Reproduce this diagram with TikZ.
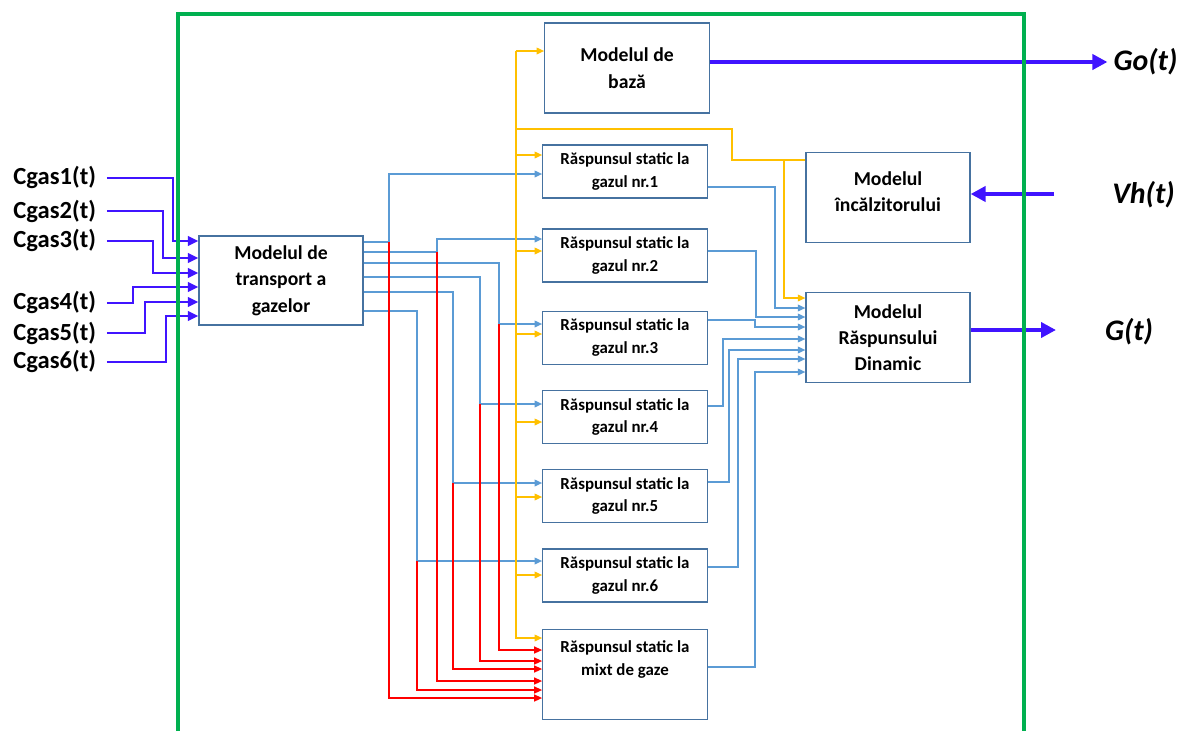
\documentclass[tikz,border=0pt]{standalone}
\usepackage{fontspec}
\setmainfont{Carlito}
\usetikzlibrary{arrows.meta}
\definecolor{FrameGreen}{RGB}{0,176,80}
\definecolor{SigBlue}{RGB}{64,20,255}
\definecolor{LinkBlue}{RGB}{91,155,213}
\definecolor{EdgeBlue}{RGB}{70,114,160}
\definecolor{FeedGold}{RGB}{255,192,0}
\definecolor{MixRed}{RGB}{255,0,0}

\begin{document}
\begin{tikzpicture}[x=0.02cm, y=-0.02cm,
    blk/.style={rectangle, draw=EdgeBlue, line width=0.7pt, minimum width=3.29cm,
                minimum height=1.8cm, align=center, inner sep=0pt,
                font=\bfseries\fontsize{11.2}{15}\selectfont},
    rs/.style={blk, minimum height=1.06cm, font=\bfseries\fontsize{9.6}{13}\selectfont},
    lbl/.style={anchor=west, inner xsep=6pt, font=\bfseries\fontsize{14}{16}\selectfont},
    olbl/.style={font=\bfseries\itshape\fontsize{17}{20}\selectfont},
    sig/.style={-{Triangle[length=6pt, width=5.5pt]}, draw=SigBlue, line width=1.3pt},
    big/.style={-{Triangle[length=8.5pt, width=8.5pt]}, draw=SigBlue, line width=2.5pt},
    bln/.style={draw=LinkBlue, line width=0.8pt},
    barr/.style={bln, -{Triangle[length=4.3pt, width=3.8pt]}},
    yln/.style={draw=FeedGold, line width=0.8pt},
    yarr/.style={yln, -{Triangle[length=4.3pt, width=3.8pt]}},
    rarr/.style={draw=MixRed, line width=0.8pt, -{Triangle[length=4.6pt, width=4pt]}}
  ]
  \useasboundingbox (0,0) rectangle (1181,731);

  % Gas inputs
  \node[lbl] (c1) at (2.5,177.7) {Cgas1(t)};
  \node[lbl] (c2) at (2.5,211) {Cgas2(t)};
  \node[lbl] (c3) at (2.5,240.7) {Cgas3(t)};
  \node[lbl] (c4) at (2.5,302.7) {Cgas4(t)};
  \node[lbl] (c5) at (2.5,333) {Cgas5(t)};
  \node[lbl] (c6) at (2.5,361.7) {Cgas6(t)};

  % Blocks
  \node[blk] (base) at (627,68) {Modelul de\\bază};
  \node[blk, minimum width=3.28cm, minimum height=1.78cm] (tr) at (281,280.5)
        {Modelul de\\transport a\\gazelor};
  \node[rs] (rs1) at (625,171.5) {Răspunsul static la\\gazul nr.1};
  \node[rs] (rs2) at (625,255.5) {Răspunsul static la\\gazul nr.2};
  \node[rs] (rs3) at (625,337.8) {Răspunsul static la\\gazul nr.3};
  \node[rs] (rs4) at (625,417) {Răspunsul static la\\gazul nr.4};
  \node[rs] (rs5) at (625,496) {Răspunsul static la\\gazul nr.5};
  \node[rs] (rs6) at (625,575.6) {Răspunsul static la\\gazul nr.6};
  \node[rs, minimum height=1.79cm] (mix) at (625,674.6)
        {Răspunsul static la\\mixt de gaze\\[6pt]\mbox{}};
  \node[blk, minimum width=3.28cm] (heat) at (888,197.7)
        {Modelul\\încălzitorului\\[-8pt]\mbox{}};
  \node[blk, minimum width=3.28cm] (dyn) at (888,337.8) {Modelul\\Răspunsului\\Dinamic};

  % Outputs
  \node[olbl] (go) at (1145.5,62) {Go(t)};
  \node[olbl] (vh) at (1143.5,195) {Vh(t)};
  \node[olbl] (g) at (1129,332) {G(t)};
  \coordinate (vhin) at (1054,194);
  \coordinate (gout) at (1056,330);

  % Inputs into transport model
  \draw[sig] (c1.east) -| (173,241) -- (tr.west |- 0,241);
  \draw[sig] (c2.east) -| (163,258) -- (tr.west |- 0,258);
  \draw[sig] (c3.east) -| (153,273) -- (tr.west |- 0,273);
  \draw[sig] (c4.east) -| (133,287) -- (tr.west |- 0,287);
  \draw[sig] (c5.east) -| (145,302) -- (tr.west |- 0,302);
  \draw[sig] (c6.east) -| (166,316) -- (tr.west |- 0,316);

  % Transport model -> static responses
  \coordinate (s1) at (389,242);
  \coordinate (s2) at (437,252);
  \coordinate (s3) at (499,324);
  \coordinate (s4) at (480,404);
  \coordinate (s5) at (453,483);
  \coordinate (s6) at (417,561);
  \draw[barr] (tr.east |- s1) -- (s1) |- (rs1.west |- 0,174);
  \draw[barr] (tr.east |- s2) -- (s2) |- (rs2.west |- 0,239);
  \draw[barr] (tr.east |- 0,263) -| (s3) -- (rs3.west |- s3);
  \draw[barr] (tr.east |- 0,277) -| (s4) -- (rs4.west |- s4);
  \draw[barr] (tr.east |- 0,292) -| (s5) -- (rs5.west |- s5);
  \draw[barr] (tr.east |- 0,311) -| (s6) -- (rs6.west |- s6);

  % same signals into the mixture block
  \draw[rarr] (s1) |- (mix.west |- 0,698);
  \draw[rarr] (s2) |- (mix.west |- 0,681);
  \draw[rarr] (s3) |- (mix.west |- 0,650);
  \draw[rarr] (s4) |- (mix.west |- 0,661);
  \draw[rarr] (s5) |- (mix.west |- 0,669);
  \draw[rarr] (s6) |- (mix.west |- 0,690);

  % Heater / base feed
  \coordinate (ytop) at (516,51);
  \coordinate (yh) at (784,160);
  \draw[yarr] (ytop) -- (base.west |- ytop);
  \draw[yarr] (ytop) |- (mix.west |- 0,638);
  \draw[yarr] (ytop |- 0,155) -- (rs1.west |- 0,155);
  \draw[yarr] (ytop |- 0,251) -- (rs2.west |- 0,251);
  \draw[yarr] (ytop |- 0,334) -- (rs3.west |- 0,334);
  \draw[yarr] (ytop |- 0,422) -- (rs4.west |- 0,422);
  \draw[yarr] (ytop |- 0,497) -- (rs5.west |- 0,497);
  \draw[yarr] (ytop |- 0,575) -- (rs6.west |- 0,575);
  \draw[yln] (ytop |- 0,129) -| (732,160) -- (heat.west |- yh);
  \draw[yarr] (yh) |- (dyn.west |- 0,298);

  % Static responses -> dynamic model
  \draw[barr] (rs1.east |- 0,187) -| (775,308) -- (dyn.west |- 0,308);
  \draw[barr] (rs2.east |- 0,251) -| (756,317) -- (dyn.west |- 0,317);
  \draw[barr] (rs3.east |- 0,320) -| (755,327) -- (dyn.west |- 0,327);
  \draw[barr] (rs4.east |- 0,406) -| (723,339) -- (dyn.west |- 0,339);
  \draw[barr] (rs5.east |- 0,482) -| (729,350) -- (dyn.west |- 0,350);
  \draw[barr] (rs6.east |- 0,567) -| (738,359) -- (dyn.west |- 0,359);
  \draw[barr] (mix.east |- 0,667) -| (755,372) -- (dyn.west |- 0,372);

  % Output arrows
  \draw[big] (base.east |- go) -- (go.west);
  \draw[big] (vhin) -- (heat.east |- vhin);
  \draw[big] (dyn.east |- gout) -- (gout);

  % System boundary
  \draw[FrameGreen, line width=1.9pt] (178,731) |- (1024,14) -- (1024,731);
\end{tikzpicture}
\end{document}
